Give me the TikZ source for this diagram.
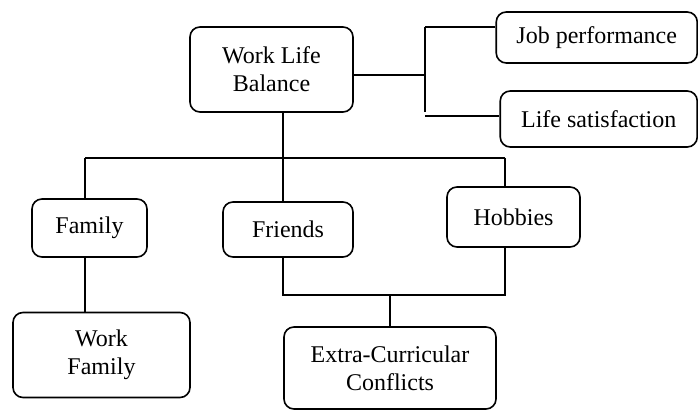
\documentclass[tikz,border=0pt]{standalone}
\usepackage{fontspec}
\setmainfont{Liberation Serif}
\usepackage{tikz}

\tikzset{
  box/.style={draw=black, line width=0.8pt, rounded corners=5pt, align=center,
    font=\fontsize{12}{14}\selectfont, inner sep=0pt},
  link/.style={line width=0.75pt}
}

\begin{document}
\begin{tikzpicture}[x=0.5pt, y=-0.5pt]
		\useasboundingbox (0,0) rectangle (698,410);

		\node[box, minimum width=81.5pt, minimum height=42.5pt] (wlb) at (271.5,69.5) {Work Life\\Balance};
		\node[box, minimum width=100.5pt, minimum height=25.5pt] (job) at (596.75,37.5) {Job performance};
		\node[box, minimum width=98.5pt, minimum height=28pt] (life) at (598.75,119) {Life satisfaction};
		\node[box, minimum width=57.5pt, minimum height=29pt] (family) at (89.5,228) {Family};
		\node[box, minimum width=65pt, minimum height=27.5pt] (friends) at (288,229.5) {Friends};
		\node[box, minimum width=66.5pt, minimum height=30pt] (hobbies) at (513.5,217) {Hobbies};
		\node[box, minimum width=88.5pt, minimum height=42.5pt] (workfam) at (101.5,355) {Work\\Family};
		\node[box, minimum width=106pt, minimum height=41pt] (extra) at (390,368) {Extra-Curricular\\Conflicts};

		% right side
		\coordinate (rtop) at (425,27);
		\coordinate (rbot) at (425,112);
		\coordinate (rmid) at (425,75);
		\coordinate (lifein) at (425,116);
		\draw[link] (rmid -| wlb.east) -- (rmid);
		\draw[link] (rtop) -- (rbot);
		\draw[link] (rtop) -- (rtop -| job.west);
		\draw[link] (lifein) -- (lifein -| life.west);

		% upper bus
		\coordinate (busL) at (85,158);
		\coordinate (busM) at (283,158);
		\coordinate (busR) at (505,158);
		\draw[link] (busL) -- (busR);
		\draw[link] (wlb.south -| busM) -- (busM);
		\draw[link] (busL) -- (busL |- family.north);
		\draw[link] (busM) -- (busM |- friends.north);
		\draw[link] (busR) -- (busR |- hobbies.north);
		\draw[link] (family.south -| busL) -- (busL |- workfam.north);

		% lower bus
		\coordinate (lowL) at (283,295);
		\coordinate (lowR) at (505,295);
		\draw[link] (lowL |- friends.south) -- (lowL) -- (lowR) -- (lowR |- hobbies.south);
		\draw[link] (extra.north |- lowL) -- (extra.north);
	\end{tikzpicture}
\end{document}
